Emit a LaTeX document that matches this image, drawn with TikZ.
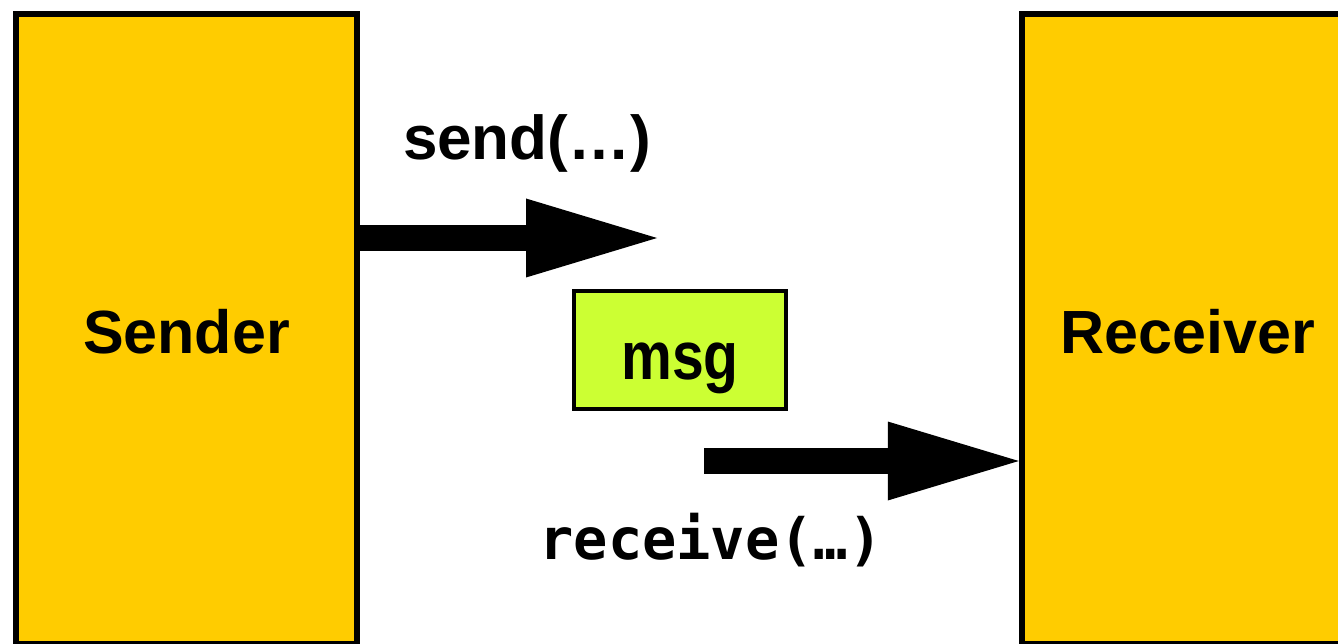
\documentclass[tikz,border=0pt]{standalone}
\usepackage{fontspec}
\usepackage{graphicx}
\setmainfont{Liberation Sans}
\newfontfamily\codefont{DejaVu Sans Mono}
\usetikzlibrary{arrows.meta}
\definecolor{boxyellow}{HTML}{FFCC00}
\definecolor{msggreen}{HTML}{CCFF33}
\begin{document}
\begin{tikzpicture}[x=1pt,y=-1pt,
  party/.style={draw=black, line width=6.5pt, fill=boxyellow,
    minimum height=630pt, text height=48pt, text depth=0pt, inner sep=0pt,
    font=\fontsize{61}{61}\selectfont\bfseries},
  msgbox/.style={draw=black, line width=3.5pt, fill=msggreen,
    minimum width=212pt, minimum height=118pt, text height=58pt, text depth=0pt,
    inner sep=0pt, font=\fontsize{68}{68}\selectfont\bfseries},
  bigarrow/.style={line width=26.5pt,
    -{Triangle[length=131pt,width=79pt,line width=0pt]}},
  sendfont/.style={font=\fontsize{62}{62}\selectfont\bfseries, inner sep=0pt},
  recvfont/.style={font=\codefont\bfseries\fontsize{57}{57}\selectfont, inner sep=0pt}]
\useasboundingbox (0,0) rectangle (1338,644);
\node[party, minimum width=341pt] (sender) at (186.5,329) {Sender};
\node[party, minimum width=332pt] (receiver) at (1188,329) {Receiver};
\node[msgbox] (msg) at (680,350) {\scalebox{0.84}[1]{msg}};
\node[sendfont, anchor=base] (sendlbl) at (527,160) {send(…)};
\node[recvfont, anchor=base] (recvlbl) at (711,559) {receive(…)};
\coordinate (sendtip) at (657,238);
\coordinate (recvstart) at (704,461);
\draw[bigarrow] (sender.east |- sendtip) -- (sendtip);
\draw[bigarrow] (recvstart) -- (receiver.west |- recvstart);
\end{tikzpicture}
\end{document}
